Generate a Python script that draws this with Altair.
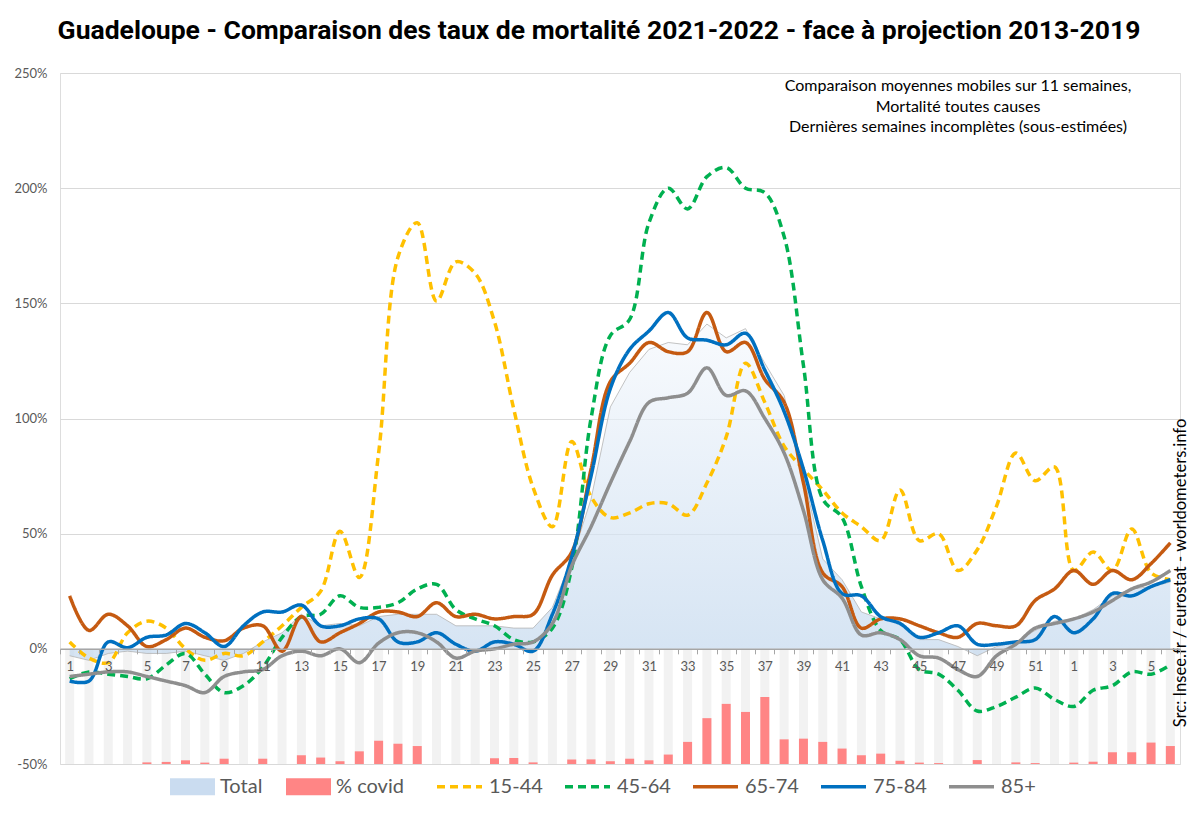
import json
import pandas as pd
import altair as alt

# weeks 2021 (1..52) then 2022 (1..6)
week_labels = [str(w) for w in range(1, 53)] + [str(w) for w in range(1, 7)]

column_names = ["Total", "% covid"]
column_colors = ["#cadcf0", "#ff8585"]

line_names = ["15-44", "45-64", "65-74", "75-84", "85+"]
line_colors = ["#ffc000", "#00b050", "#c55a11", "#0070c0", "#8e8e8e"]
line_dashes = [[8, 5], [8, 5], [1, 0], [1, 0], [1, 0]]

total = [-3, -5, -2, -1, -2, -2, -1, -3, -5, -2,
         3, 7, 15, 10, 11, 10, 14, 15, 15, 15,
         10, 10, 10, 9, 9, 18, 39, 65, 105, 120,
         130, 133, 132, 141, 135, 139, 124, 110, 75, 39,
         30, 16, 13, 12, 4, 4, 1, -3, 1, 3,
         8, 12,
         13, 17, 23, 26, 27, 29]

covid = [0, 0, 0, 0, 0.7, 0.9, 1.6, 0.6, 2.3, 0,
         2.3, 0, 3.8, 2.8, 1.2, 5.5, 10.1, 8.8, 7.8, 0,
         0, 0, 2.5, 2.6, 0.7, 0, 2.0, 2.0, 1.2, 2.3,
         1.6, 4.1, 9.6, 19.9, 26.1, 22.6, 29.1, 10.7, 11.0, 9.6,
         6.7, 3.8, 4.5, 1.4, 0.6, 0.4, 0, 1.7, 0, 0.7,
         0.4, 0,
         0.6, 1.0, 5.1, 5.1, 9.3, 7.8]

age_15_44 = [3, -4, -6, 7, 12, 9, 0, -5, -2, -3,
             3, 10, 18, 25, 51, 31, 85, 170, 185, 151,
             168, 163, 142, 104, 70, 53, 90, 66, 57, 59,
             63, 63, 58, 72, 92, 124, 107, 88, 78, 69,
             59, 53, 47, 69, 47, 50, 34, 43, 62, 85,
             73, 79,
             34, 42, 34, 52, 33, 30]

age_45_64 = [-13, -10, -11, -12, -13, -7, -2, -11, -19, -16,
             -8, 5, 14, 15, 23, 18, 18, 20, 26, 28,
             17, 13, 10, 4, 3, 9, 35, 100, 136, 143,
             185, 200, 191, 205, 209, 200, 198, 179, 123, 65,
             57, 27, 8, 4, -9, -11, -18, -27, -25, -21,
             -17, -22,
             -25, -18, -16, -10, -11, -7]

age_65_74 = [23, 8, 15, 10, 1, 4, 9, 5, 3.5, 9,
             10, -1, 14, 3, 7, 11, 16, 16, 14, 20,
             14, 15, 13, 14, 15, 32, 42, 78, 116, 124,
             133, 129, 129, 146, 129, 133, 117, 107, 72, 33,
             27, 9, 13, 13, 10, 7, 5, 11, 10, 10,
             21, 26,
             34, 28, 34, 30, 37, 46]

age_75_84 = [-14, -14, 3, 0.5, 5, 6, 11, 7, 1, 10,
             16, 16, 19, 10, 10, 13, 13, 3, 3, 7,
             2, -1, 3, 2, -1, 15, 40, 75, 113, 130,
             138, 146, 135, 134, 132, 137, 121, 103, 78, 47,
             24, 23, 14, 11, 5, 7, 10, 2, 2, 3,
             4, 14,
             7, 13, 24, 23, 27, 30]

age_85 = [-12, -11, -10, -10, -12, -14, -16, -19, -12, -10,
          -9, -3, -1, -3, 0, -6, 2.5, 7, 7, 3,
          -4, -1, 0, 2, 3, 11, 36, 53, 72, 90,
          107, 109, 111, 122, 110, 112, 100, 85, 60, 30,
          22, 6, 7, 4, -3, -4, -9, -12, -3, 2,
          9, 11,
          13, 16, 21, 26, 29, 34]

title_text = "Guadeloupe - Comparaison des taux de mortalité 2021-2022 -  face à projection 2013-2019"
note_lines = ["Comparaison moyennes mobiles sur 11 semaines,",
              "Mortalité toutes causes",
              "Dernières semaines incomplètes (sous-estimées)"]
source_text = "Src: Insee.fr / eurostat - worldometers.info"

# Build tables
idx = list(range(len(week_labels)))
weekly = pd.DataFrame({"i": idx, "total": total, "covid": covid, "kind": "% covid"})

age_series = dict(zip(line_names, [age_15_44, age_45_64, age_65_74, age_75_84, age_85]))
lines = pd.concat(
    [pd.DataFrame({"i": idx, "value": vals, "series": name}) for name, vals in age_series.items()],
    ignore_index=True,
)

W, H = 1120, 691
label_font = "Lato"
grey_text = "#595959"

odd_labels = [lab if int(lab) % 2 == 1 else "" for lab in week_labels]
x_enc = alt.X(
    "i:O",
    scale=alt.Scale(paddingInner=0, paddingOuter=0),
    axis=alt.Axis(
        title=None, labelAngle=0, labelExpr=json.dumps(odd_labels) + "[datum.value]",
        labelOverlap=False, labelFont=label_font, labelFontSize=13, labelColor=grey_text,
        labelPadding=7, tickBand="extent", tickSize=5, tickColor="#a6a6a6",
        domainColor="#a6a6a6", domainWidth=1.5, grid=False, zindex=1,
        offset=-H * 50 / 300,
    ),
)

y_scale = alt.Scale(domain=[-50, 250], nice=False)
y_axis = alt.Axis(
    title=None, values=[-50, 0, 50, 100, 150, 200, 250], labelExpr="datum.value + '%'",
    grid=True, gridColor="#d9d9d9", domain=False, ticks=False,
    labelFont=label_font, labelFontSize=13, labelColor=grey_text, labelPadding=13,
)

# grey background columns
bg_bars = alt.Chart(weekly).mark_bar(size=9, color="#f2f2f2").encode(
    x=x_enc,
    y=alt.Y(datum=-50, scale=y_scale, axis=y_axis),
    y2=alt.datum(0),
)

# legend for the two column-like series
column_legend = alt.Legend(
    title=None, orient="none", legendX=110, legendY=691, direction="horizontal",
    symbolType="M-1,-0.38H1V0.38H-1Z", symbolSize=2025, symbolStrokeWidth=0,
    labelFont=label_font, labelFontSize=20, labelColor=grey_text,
    labelOffset=5, columnPadding=23,
)

# % covid columns, drawn up from the -50% line
covid_bars = alt.Chart(weekly).transform_filter(
    "datum.covid > 0"
).transform_calculate(
    top="-50 + datum.covid"
).mark_bar(size=9).encode(
    x=x_enc,
    y=alt.Y("top:Q", scale=y_scale, axis=y_axis),
    y2=alt.datum(-50),
    fill=alt.Fill("kind:N", scale=alt.Scale(domain=column_names, range=column_colors),
                  legend=column_legend),
)

gradient = alt.Gradient(
    gradient="linear",
    stops=[alt.GradientStop(color="#f6f9fd", offset=0),
           alt.GradientStop(color="#c3d8ee", offset=1)],
    x1=1, x2=1, y1=0, y2=1,
)
total_area = alt.Chart(weekly).mark_area(
    interpolate="linear", color=gradient,
    line={"color": "#b4b4b4", "strokeWidth": 0.8},
).encode(
    x=x_enc,
    y=alt.Y("total:Q", scale=y_scale, axis=y_axis),
    y2=alt.datum(0),
)

line_legend = alt.Legend(
    title=None, orient="none", legendX=375, legendY=689, direction="horizontal",
    symbolType="stroke", symbolSize=2025, symbolStrokeWidth=3.5,
    labelFont=label_font, labelFontSize=20, labelColor=grey_text,
    labelOffset=5, columnPadding=15,
)

age_lines = alt.Chart(lines).mark_line(interpolate="catmull-rom").encode(
    x=x_enc,
    y=alt.Y("value:Q", scale=y_scale, axis=y_axis),
    stroke=alt.Stroke("series:N", scale=alt.Scale(domain=line_names, range=line_colors),
                      legend=line_legend),
    strokeDash=alt.StrokeDash("series:N",
                              scale=alt.Scale(domain=line_names, range=line_dashes),
                              legend=line_legend),
    strokeWidth=alt.value(3.5),
)

note = alt.Chart(pd.DataFrame({"n": [0]})).mark_text(
    font=label_font, fontSize=16, color="#000000", align="center", baseline="top",
    lineHeight=20.5,
).encode(x=alt.value(898), y=alt.value(5), text=alt.value(note_lines))

source = alt.Chart(pd.DataFrame({"n": [0]})).mark_text(
    font=label_font, fontSize=16.6, color="#000000", angle=270, align="center",
    baseline="middle",
).encode(x=alt.value(1121), y=alt.value(500), text=alt.value(source_text))

chart = alt.layer(bg_bars, covid_bars, total_area, age_lines, note, source).properties(
    width=W,
    height=H,
    autosize="none",
    padding={"left": 52, "top": 65, "right": 12, "bottom": 47},
    title=alt.TitleParams(
        title_text, font="Roboto", fontSize=26.5, fontWeight="bold", color="#000000",
        anchor="middle", dx=-21, offset=23,
    ),
).configure_view(stroke=None).configure(background="#ffffff")

chart.save("out.html", embed_options={"renderer": "svg", "actions": False})
